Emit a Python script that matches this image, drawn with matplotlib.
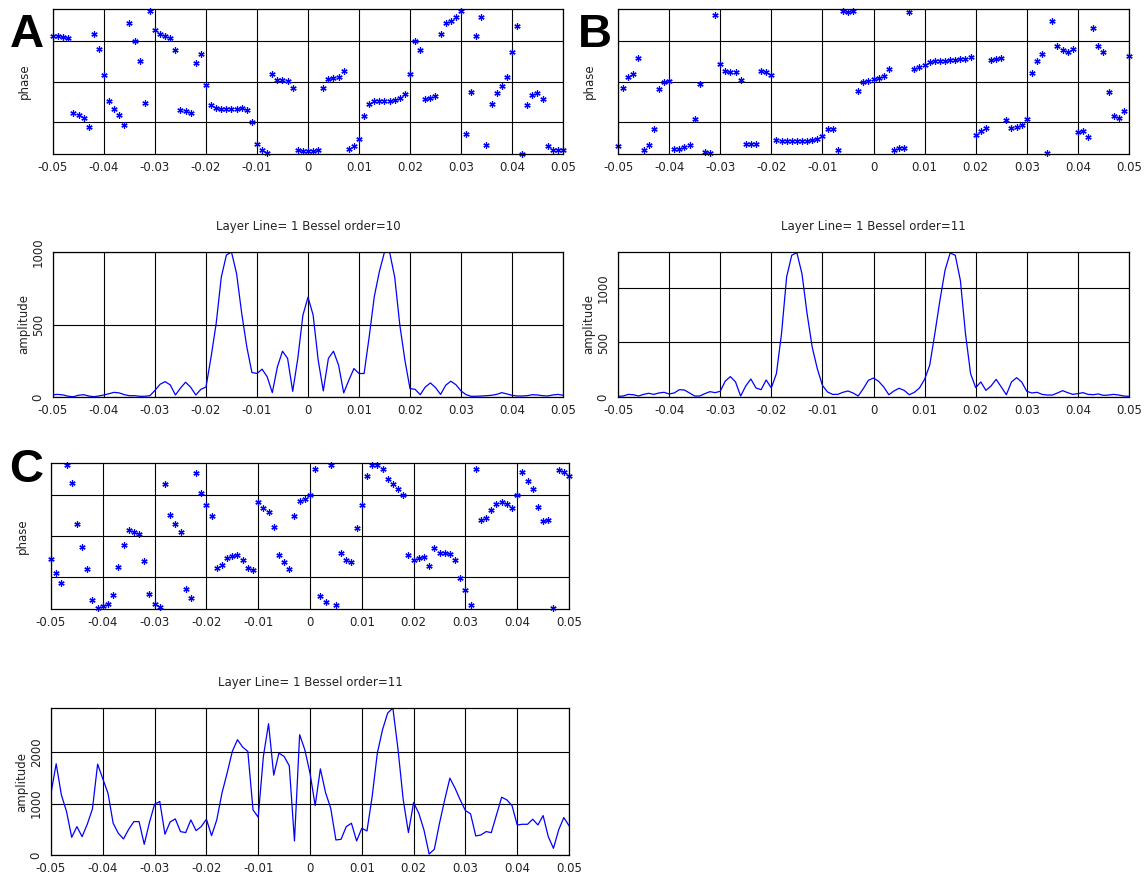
import numpy as np
import matplotlib
matplotlib.use("Agg")
import matplotlib.pyplot as plt

plt.rcParams['font.family'] = ['DejaVu Sans']

# spatial frequency samples (every 0.001 from -0.05 to 0.05)
freq = np.round(np.linspace(-0.05, 0.05, 101), 3)

xtick_vals = [-0.05, -0.04, -0.03, -0.02, -0.01, 0, 0.01, 0.02, 0.03, 0.04, 0.05]
xtick_labels = ['-0.05', '-0.04', '-0.03', '-0.02', '-0.01', '0', '0.01', '0.02', '0.03', '0.04', '0.05']

# phase in degrees
phase_a = [113, 114, 111, 109, -78, -82, -90, -112, 119, 81,
           16, -48, -68, -83, -108, 146, 101, 50, -53, 176,
           128, 118, 112, 107, 77, -70, -74, -77, 45, 69,
           -8, -58, -67, -69, -69, -69, -68, -67, -72, -100,
           -155, -171, -178, 19, 4, 3, 2, -16, -171, -173,
           -173, -173, -170, -16, 6, 9, 12, 26, -167, -161,
           -142, -86, -56, -49, -49, -49, -48, -45, -42, -30,
           19, 100, 77, -43, -41, -35, 119, 146, 151, 160,
           174, -130, -27, 113, 159, -158, -56, -29, -12, 10,
           74, 139, -179, -58, -34, -28, -43, -160, -170, -170,
           -169]

amp_a = [16, 18, 14, 5, 2, 12, 16, 7, 2, 7,
         14, 23, 32, 28, 16, 9, 9, 5, 5, 9,
         46, 88, 106, 83, 14, 62, 102, 67, 14, 53,
         69, 277, 508, 827, 979, 1000, 850, 577, 346, 169,
         162, 192, 139, 30, 208, 316, 266, 39, 266, 564,
         688, 566, 254, 42, 266, 316, 219, 28, 115, 196,
         162, 162, 416, 693, 866, 1000, 1000, 827, 497, 254,
         58, 53, 16, 69, 97, 65, 18, 81, 109, 85,
         42, 16, 5, 5, 7, 9, 12, 18, 30, 21,
         12, 7, 7, 9, 16, 14, 9, 7, 14, 18,
         12]

phase_b = [-160, -15, 11, 19, 59, -170, -157, -119, -18, -2,
           2, -167, -167, -163, -157, -94, -7, -175, -178, 165,
           43, 26, 24, 23, 3, -155, -156, -156, 27, 24,
           16, -145, -147, -148, -148, -148, -147, -147, -145, -142,
           -135, -117, -117, -170, 174, 173, 176, -23, 0, 2,
           6, 9, 14, 31, -169, -165, -164, 173, 32, 35,
           41, 48, 50, 51, 52, 53, 53, 55, 57, 61,
           -133, -123, -116, 53, 57, 58, -96, -115, -113, -109,
           -92, 22, 51, 69, -177, 149, 88, 77, 73, 80,
           -126, -124, -137, 133, 87, 74, -26, -86, -91, -74,
           64]

amp_b = [6, 9, 24, 21, 9, 24, 34, 24, 37, 43,
         28, 37, 67, 64, 37, 9, 9, 31, 49, 40,
         52, 147, 187, 138, 9, 101, 165, 83, 67, 156,
         83, 214, 581, 1101, 1300, 1324, 1131, 765, 459, 260,
         107, 46, 24, 24, 43, 55, 37, 9, 76, 153,
         174, 144, 92, 21, 55, 80, 61, 21, 43, 83,
         162, 291, 581, 887, 1162, 1321, 1300, 1070, 581, 214,
         86, 138, 61, 101, 162, 92, 21, 138, 177, 138,
         52, 37, 43, 24, 18, 18, 37, 58, 40, 24,
         31, 40, 24, 21, 28, 15, 18, 24, 18, 9,
         6]

phase_c = [-57, -92, -115, 174, 131, 30, -27, -82, -157, -177,
           -173, -167, -145, -77, -22, 16, 11, 5, -62, -144,
           -167, -176, 127, 51, 29, 11, -131, -152, 155, 106,
           77, 49, -78, -71, -55, -50, -48, -60, -80, -83,
           85, 68, 59, 23, -47, -64, -81, 50, 87, 91,
           100, 166, -147, -162, 174, -170, -43, -60, -63, 20,
           77, 149, 176, 176, 166, 140, 127, 115, 100, -46,
           -59, -55, -51, -75, -30, -42, -43, -44, -60, -103,
           -134, -169, 166, 39, 45, 64, 80, 85, 80, 69,
           100, 159, 136, 115, 71, 38, 40, -178, 163, 159,
           147]

amp_c = [1201, 1773, 1169, 844, 344, 552, 357, 597, 896, 1766,
         1481, 1201, 617, 422, 312, 500, 649, 649, 208, 630,
         987, 1039, 403, 643, 701, 455, 435, 682, 474, 552,
         695, 377, 682, 1201, 1591, 2013, 2240, 2097, 2013, 877,
         734, 1916, 2552, 1552, 1981, 1916, 1734, 273, 2338, 2045,
         1591, 961, 1675, 1214, 909, 292, 305, 552, 617, 273,
         519, 468, 1136, 1981, 2435, 2760, 2857, 2045, 1071, 435,
         1019, 812, 487, 19, 110, 617, 1071, 1494, 1299, 1071,
         864, 799, 370, 390, 455, 435, 779, 1123, 1071, 961,
         584, 597, 597, 695, 584, 766, 357, 130, 487, 727,
         571]

titles = ['Layer Line= 1 Bessel order=10', 'Layer Line= 1 Bessel order=11', 'Layer Line= 1 Bessel order=11']
amp_ticks = [[0, 500, 1000], [0, 500, 1000], [0, 1000, 2000]]
amp_top = [1000, 1330, 2857]

W, H = 1144, 873
fig = plt.figure(figsize=(W / 100, H / 100), dpi=100)


def box(left, top, right, bottom):
    return [left / W, 1 - bottom / H, (right - left) / W, (bottom - top) / H]


def style(ax):
    ax.set_xlim(-0.05, 0.05)
    ax.set_xticks(xtick_vals)
    ax.set_xticklabels(xtick_labels)
    ax.grid(True, color='k', lw=0.8)
    ax.tick_params(length=0, labelsize=8.5, labelcolor='#222222', pad=5)
    for s in ax.spines.values():
        s.set_linewidth(0.9)
    ax.set_axisbelow(True)


def phase_panel(rect, ph):
    ax = fig.add_axes(rect)
    style(ax)
    ax.plot(freq, ph, ls='none', marker=(6, 2, 0), ms=4.5, mew=0.9, color='#0000ff', clip_on=False)
    ax.set_ylim(-180, 180)
    ax.set_yticks([-100, 0, 100])
    ax.set_yticklabels([])
    ax.set_ylabel('phase', fontsize=8.5, labelpad=11, color='#222222')
    return ax


def amp_panel(rect, amp, i):
    ax = fig.add_axes(rect)
    style(ax)
    ax.plot(freq, amp, color='#0000ff', lw=0.9)
    ax.set_ylim(0, amp_top[i])
    ax.set_yticks(amp_ticks[i])
    ax.set_yticklabels([str(t) for t in amp_ticks[i]], rotation=90, va='center')
    ax.tick_params(axis='y', pad=6)
    ax.set_ylabel('amplitude', fontsize=8.5, labelpad=1, color='#222222')
    ax.set_title(titles[i], fontsize=8.5, pad=16, color='#222222')
    return ax


phase_panel(box(53, 9, 563, 154), phase_a)
amp_panel(box(53, 252, 563, 397), amp_a, 0)
phase_panel(box(618, 9, 1129, 154), phase_b)
amp_panel(box(618, 252, 1129, 397), amp_b, 1)
phase_panel(box(51, 463, 569, 609), phase_c)
amp_panel(box(51, 708, 569, 855), amp_c, 2)

for lab, x, y in [('A', 10, 47), ('B', 578, 47), ('C', 9, 482)]:
    fig.text(x / W, 1 - y / H, lab, fontsize=34, fontweight='bold',
             family='Liberation Sans', ha='left', va='baseline')

fig.savefig('out.png', dpi=100)
